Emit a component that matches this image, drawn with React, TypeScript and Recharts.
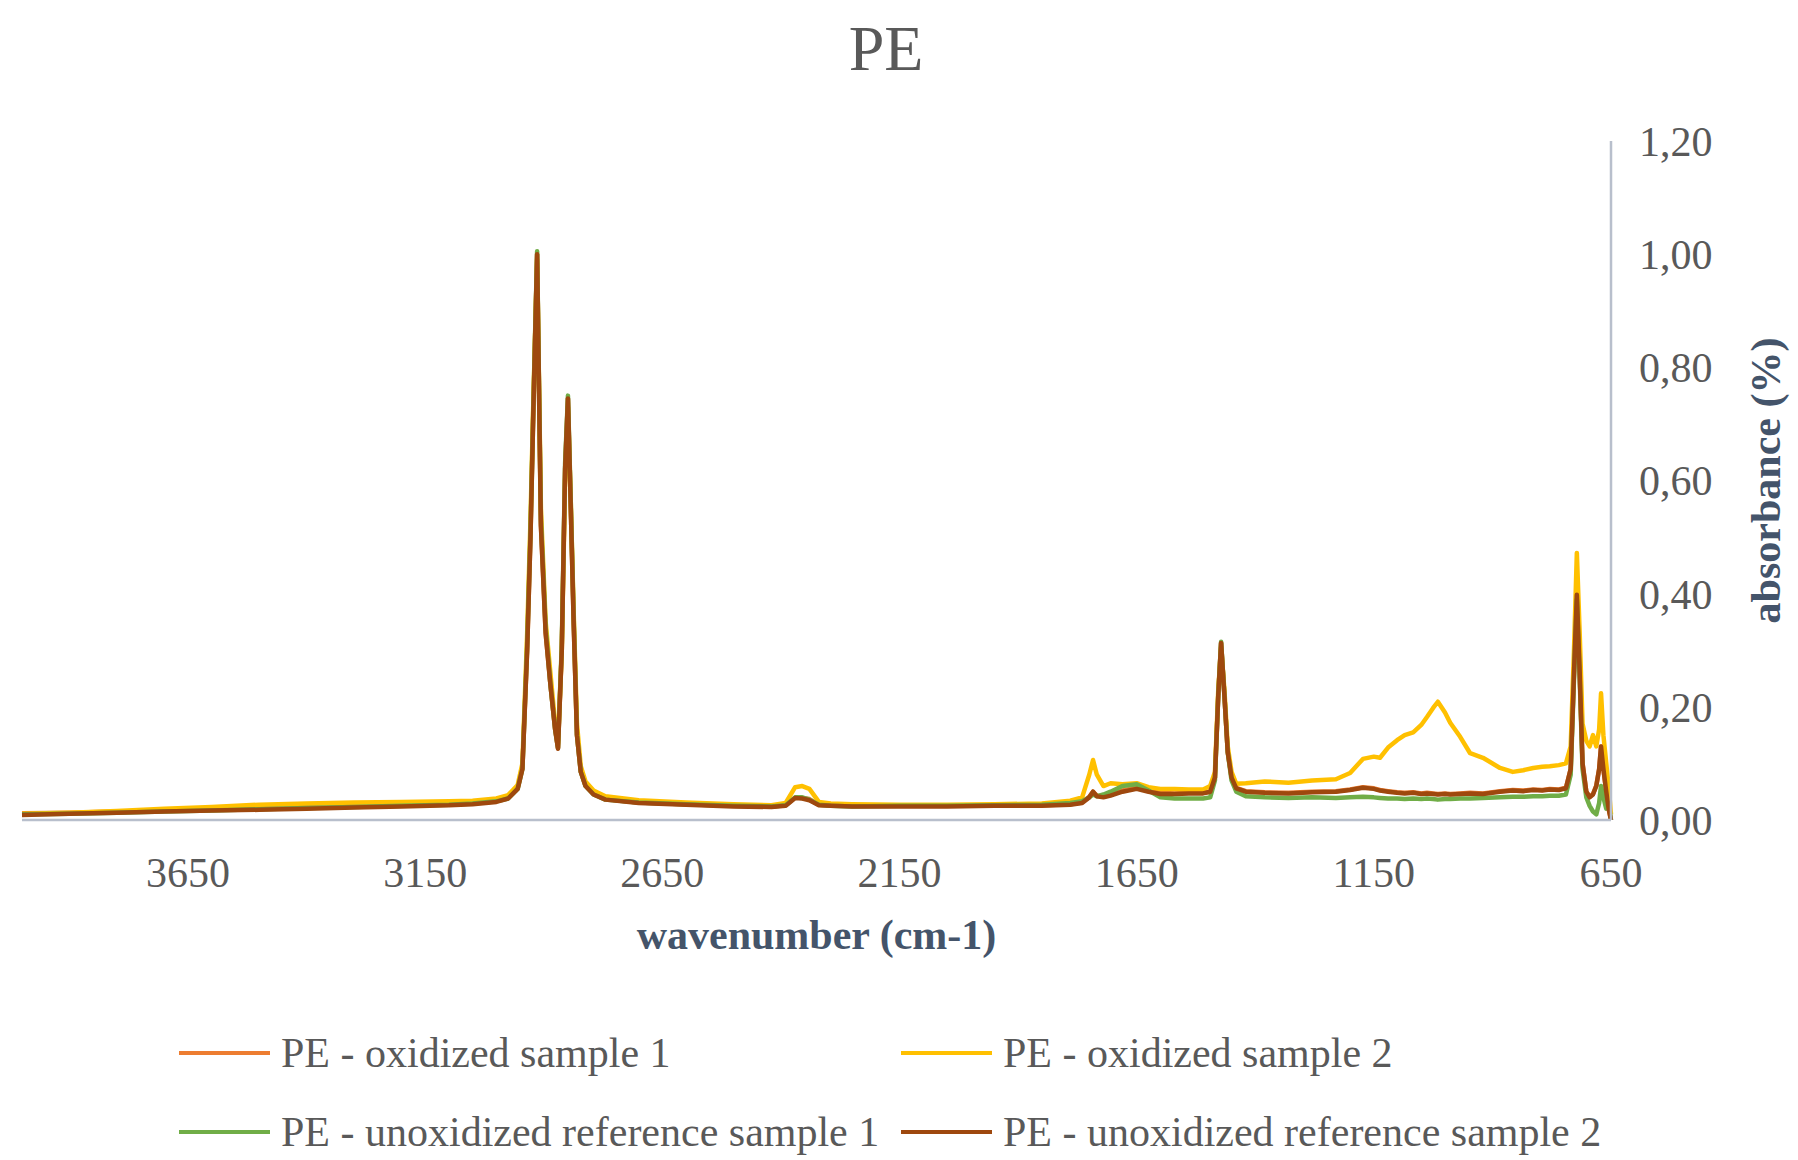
import { LineChart, Line, XAxis, YAxis } from 'recharts'

// wavenumbers (cm-1), high to low
const wavenumbers = [
  4000, 3900, 3800, 3700, 3600, 3500, 3400, 3300, 3200, 3100, 3050, 3000, 2975, 2955, 2945, 2935,
  2928, 2922, 2914, 2906, 2896, 2886, 2876, 2870, 2862, 2855, 2849, 2843, 2837, 2830, 2822, 2812,
  2795, 2770, 2700, 2600, 2500, 2420, 2390, 2370, 2355, 2340, 2320, 2295, 2250, 2150, 2050, 1950,
  1850, 1790, 1765, 1750, 1742, 1734, 1720, 1705, 1680, 1650, 1625, 1600, 1570, 1540, 1510, 1495,
  1485, 1478, 1472, 1465, 1458, 1450, 1440, 1420, 1380, 1330, 1280, 1230, 1200, 1173, 1150, 1137,
  1120, 1101, 1085, 1067, 1050, 1038, 1025, 1015, 1000, 989, 968, 947, 920, 884, 857, 835,
  814, 795, 779, 760, 745, 735, 728, 722, 716, 710, 702, 695, 688, 681, 675, 671,
  666, 660, 655, 650,
]

const oxidized1 = [
  0.012, 0.013, 0.015, 0.017, 0.019, 0.021, 0.023, 0.025, 0.026, 0.028, 0.03, 0.034, 0.04, 0.057, 0.092, 0.3,
  0.5, 0.72, 1.0, 0.52, 0.33, 0.24, 0.16, 0.127, 0.3, 0.62, 0.745, 0.55, 0.35, 0.15, 0.086, 0.061,
  0.046, 0.037, 0.031, 0.028, 0.025, 0.024, 0.026, 0.04, 0.039, 0.037, 0.027, 0.026, 0.025, 0.025, 0.025, 0.026,
  0.026, 0.028, 0.031, 0.041, 0.05, 0.043, 0.042, 0.045, 0.052, 0.057, 0.052, 0.048, 0.047, 0.048, 0.048, 0.05,
  0.075, 0.22, 0.313, 0.22, 0.12, 0.076, 0.057, 0.051, 0.049, 0.048, 0.05, 0.051, 0.054, 0.058, 0.056, 0.053,
  0.051, 0.049, 0.048, 0.049, 0.047, 0.048, 0.047, 0.046, 0.047, 0.046, 0.047, 0.048, 0.047, 0.051, 0.053, 0.052,
  0.054, 0.053, 0.055, 0.054, 0.057, 0.09, 0.26, 0.4, 0.26, 0.1, 0.05, 0.041, 0.046, 0.061, 0.09, 0.13,
  0.09, 0.05, 0.02, 0.0,
]

const oxidized2 = [
  0.011, 0.013, 0.016, 0.02, 0.023, 0.027, 0.029, 0.031, 0.032, 0.033, 0.034, 0.038, 0.044, 0.062, 0.1, 0.33,
  0.53, 0.74, 0.99, 0.55, 0.35, 0.26, 0.17, 0.135, 0.3, 0.6, 0.73, 0.56, 0.37, 0.17, 0.095, 0.068,
  0.052, 0.042, 0.035, 0.031, 0.028, 0.026, 0.03, 0.058, 0.06, 0.055, 0.032, 0.029, 0.028, 0.027, 0.027, 0.028,
  0.029, 0.034, 0.04, 0.08, 0.106, 0.08, 0.06, 0.065, 0.063, 0.065, 0.058, 0.055, 0.055, 0.054, 0.054, 0.06,
  0.085, 0.23, 0.305, 0.23, 0.13, 0.085, 0.064, 0.065, 0.068, 0.066, 0.07, 0.072, 0.083, 0.108, 0.112, 0.11,
  0.128, 0.141, 0.15, 0.155, 0.168, 0.182, 0.198, 0.209, 0.19, 0.172, 0.147, 0.118, 0.11, 0.092, 0.085, 0.088,
  0.092, 0.094, 0.095, 0.097, 0.1, 0.13, 0.3, 0.472, 0.33, 0.17, 0.14, 0.13, 0.15, 0.13, 0.16, 0.224,
  0.15, 0.1, 0.06, 0.01,
]

const reference1 = [
  0.01, 0.011, 0.013, 0.015, 0.017, 0.019, 0.021, 0.023, 0.025, 0.027, 0.029, 0.033, 0.038, 0.055, 0.09, 0.31,
  0.51, 0.73, 1.005, 0.53, 0.34, 0.24, 0.16, 0.128, 0.31, 0.63, 0.75, 0.56, 0.36, 0.15, 0.085, 0.06,
  0.045, 0.036, 0.031, 0.028, 0.025, 0.024, 0.026, 0.04, 0.04, 0.036, 0.027, 0.025, 0.024, 0.025, 0.025, 0.026,
  0.027, 0.03, 0.033, 0.04, 0.045, 0.042, 0.045, 0.05, 0.06, 0.063, 0.052, 0.04, 0.038, 0.038, 0.038, 0.04,
  0.07, 0.22, 0.315, 0.22, 0.12, 0.07, 0.05, 0.042, 0.04, 0.039, 0.04, 0.039, 0.04, 0.041, 0.04, 0.039,
  0.038, 0.038, 0.037, 0.038, 0.037, 0.038, 0.037, 0.036, 0.037, 0.037, 0.038, 0.038, 0.039, 0.04, 0.041, 0.041,
  0.042, 0.042, 0.043, 0.043, 0.045, 0.08, 0.25, 0.39, 0.25, 0.09, 0.04, 0.025, 0.015, 0.01, 0.03, 0.06,
  0.04, 0.02, 0.03, 0.0,
]

const reference2 = [
  0.009, 0.011, 0.013, 0.015, 0.017, 0.018, 0.02, 0.022, 0.024, 0.026, 0.028, 0.032, 0.038, 0.055, 0.09, 0.3,
  0.5, 0.72, 1.0, 0.52, 0.33, 0.24, 0.16, 0.126, 0.3, 0.62, 0.745, 0.55, 0.35, 0.15, 0.085, 0.06,
  0.045, 0.036, 0.03, 0.027, 0.024, 0.023, 0.025, 0.039, 0.038, 0.035, 0.026, 0.025, 0.024, 0.024, 0.024, 0.025,
  0.025, 0.027, 0.03, 0.04, 0.05, 0.042, 0.04, 0.043, 0.05, 0.055, 0.05, 0.046, 0.046, 0.047, 0.047, 0.05,
  0.075, 0.22, 0.313, 0.22, 0.12, 0.075, 0.056, 0.05, 0.048, 0.047, 0.049, 0.05, 0.053, 0.057, 0.055, 0.052,
  0.05, 0.048, 0.047, 0.048, 0.046, 0.047, 0.046, 0.045, 0.046, 0.045, 0.046, 0.047, 0.046, 0.05, 0.052, 0.051,
  0.053, 0.052, 0.054, 0.053, 0.056, 0.09, 0.26, 0.398, 0.26, 0.1, 0.05, 0.04, 0.045, 0.06, 0.09, 0.13,
  0.09, 0.05, 0.02, 0.0,
]

const xTicks = [3650, 3150, 2650, 2150, 1650, 1150, 650]
const yTicks = [0, 0.2, 0.4, 0.6, 0.8, 1.0, 1.2]

const seriesInfo = [
  { key: 'ox1', name: 'PE - oxidized sample 1', color: '#ED7D31' },
  { key: 'ox2', name: 'PE - oxidized sample 2', color: '#FFC000' },
  { key: 'ref1', name: 'PE - unoxidized reference sample 1', color: '#70AD47' },
  { key: 'ref2', name: 'PE - unoxidized reference sample 2', color: '#9E480E' },
]

const data = wavenumbers.map((wn, i) => ({
  wn,
  ox1: oxidized1[i],
  ox2: oxidized2[i],
  ref1: reference1[i],
  ref2: reference2[i],
}))

const serif = '"Liberation Serif", "Times New Roman", serif'
const tickStyle = { fontFamily: serif, fontSize: 42, fill: '#595959' }
const axisStroke = { stroke: '#B8BFCC', strokeWidth: 2.5 }

function XTitle({ viewBox }: any) {
  const { x, y, width } = viewBox
  return (
    <text x={x + width / 2} y={y + 129} textAnchor="middle" fontFamily={serif} fontSize={42} fontWeight="bold" fill="#44546A">
      wavenumber (cm-1)
    </text>
  )
}

function YTitle({ viewBox }: any) {
  const { x, y, height } = viewBox
  const cx = x + 155
  const cy = y + height / 2
  return (
    <text x={cx} y={cy} transform={`rotate(-90 ${cx} ${cy})`} textAnchor="middle" dominantBaseline="central" fontFamily={serif} fontSize={42} fontWeight="bold" fill="#44546A">
      absorbance (%)
    </text>
  )
}

const legendSpots = [
  { left: 179, top: 1053 },
  { left: 901, top: 1053 },
  { left: 179, top: 1132 },
  { left: 901, top: 1132 },
]

export default function App() {
  return (
    <div style={{ position: 'absolute', left: 0, top: 0, width: 1798, height: 1160, background: '#fff' }}>
      <div style={{ position: 'absolute', left: 0, width: 1772, top: 14, textAlign: 'center', fontFamily: serif, fontSize: 64, color: '#595959', lineHeight: '70px' }}>
        PE
      </div>
      <LineChart width={1798} height={1160} data={data} margin={{ top: 141, right: 0, bottom: 280, left: 22 }}>
        <XAxis
          dataKey="wn"
          type="number"
          domain={[650, 4000]}
          reversed
          ticks={xTicks}
          height={60}
          tickLine={false}
          tickSize={0}
          tickMargin={37}
          axisLine={axisStroke}
          tick={tickStyle}
          label={<XTitle />}
        />
        <YAxis
          orientation="right"
          domain={[0, 1.2]}
          ticks={yTicks}
          width={187}
          tickLine={false}
          tickSize={0}
          tickMargin={28}
          axisLine={axisStroke}
          tick={tickStyle}
          tickFormatter={(v: number) => v.toFixed(2).replace('.', ',')}
          label={<YTitle />}
        />
        {seriesInfo.map(s => (
          <Line
            key={s.key}
            type="linear"
            dataKey={s.key}
            name={s.name}
            stroke={s.color}
            strokeWidth={4.5}
            strokeLinejoin="round"
            dot={false}
            activeDot={false}
            isAnimationActive={false}
          />
        ))}
      </LineChart>
      {seriesInfo.map((s, i) => (
        <div
          key={s.key}
          style={{
            position: 'absolute',
            left: legendSpots[i].left,
            top: legendSpots[i].top - 25,
            height: 50,
            display: 'flex',
            alignItems: 'center',
            whiteSpace: 'nowrap',
          }}
        >
          <div style={{ width: 91, height: 4, background: s.color, marginRight: 11 }} />
          <span style={{ fontFamily: serif, fontSize: 42, color: '#595959' }}>{s.name}</span>
        </div>
      ))}
    </div>
  )
}
